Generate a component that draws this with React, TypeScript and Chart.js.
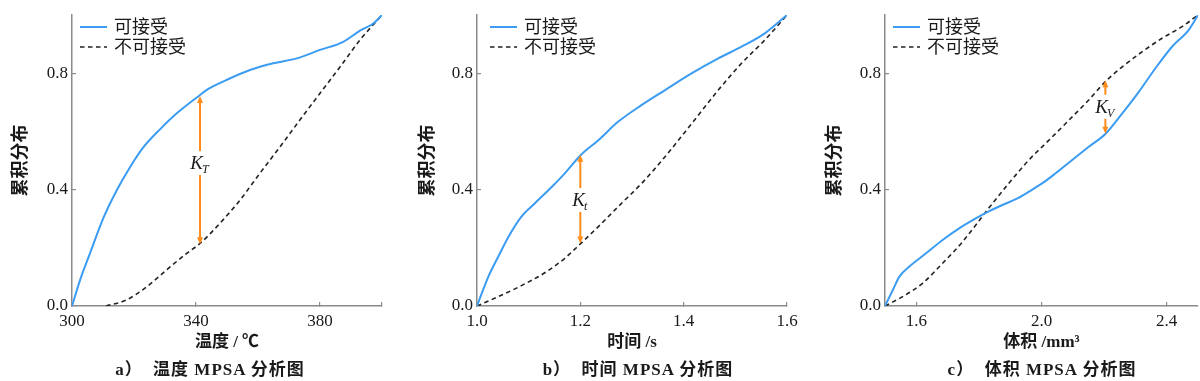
import React, { useEffect, useRef } from "react";
import { Chart, registerables } from "chart.js";

Chart.register(...registerables);

// ---------- data ----------
const seriesLabels = ["可接受", "不可接受"];

// a) temperature
const tempAcceptX = [300, 302.6, 305.8, 310.1, 314.4, 318.7, 323, 328.4, 333.8, 341.3, 344, 349.9, 357.4, 364.9, 372.5, 380, 387.5, 392.9, 397.2, 400];
const tempAcceptY = [0, 0.089, 0.181, 0.302, 0.397, 0.477, 0.545, 0.607, 0.662, 0.725, 0.746, 0.777, 0.811, 0.834, 0.851, 0.88, 0.908, 0.946, 0.971, 1.0];
const tempRejectX = [311, 317.6, 324.1, 330.5, 337, 341.3, 347.7, 354.2, 360.6, 367.1, 373.5, 380, 386.5, 392.9, 400];
const tempRejectY = [0, 0.021, 0.066, 0.124, 0.181, 0.215, 0.284, 0.364, 0.456, 0.547, 0.639, 0.731, 0.822, 0.914, 1.0];

// b) time
const timeAcceptX = [1.0, 1.022, 1.041, 1.061, 1.086, 1.112, 1.145, 1.17, 1.201, 1.235, 1.273, 1.319, 1.364, 1.416, 1.467, 1.512, 1.557, 1.6];
const timeAcceptY = [0, 0.101, 0.169, 0.238, 0.307, 0.353, 0.41, 0.456, 0.519, 0.57, 0.633, 0.691, 0.742, 0.8, 0.851, 0.891, 0.937, 1.0];
const timeRejectX = [1.0, 1.041, 1.086, 1.132, 1.17, 1.201, 1.235, 1.273, 1.319, 1.364, 1.416, 1.467, 1.512, 1.557, 1.6];
const timeRejectY = [0, 0.032, 0.07, 0.115, 0.164, 0.215, 0.273, 0.341, 0.422, 0.513, 0.628, 0.742, 0.834, 0.914, 1.0];

// c) volume
const volAcceptX = [1.5, 1.525, 1.546, 1.577, 1.631, 1.684, 1.737, 1.79, 1.833, 1.875, 1.918, 1.96, 2.003, 2.045, 2.098, 2.151, 2.204, 2.258, 2.311, 2.364, 2.417, 2.47, 2.5];
const volAcceptY = [0, 0.055, 0.101, 0.135, 0.181, 0.227, 0.267, 0.301, 0.326, 0.347, 0.367, 0.393, 0.422, 0.456, 0.502, 0.547, 0.591, 0.662, 0.736, 0.817, 0.891, 0.948, 1.0];
const volRejectX = [1.5, 1.556, 1.62, 1.684, 1.748, 1.827, 1.896, 1.96, 2.024, 2.088, 2.151, 2.204, 2.258, 2.322, 2.385, 2.449, 2.5];
const volRejectY = [0, 0.032, 0.078, 0.147, 0.221, 0.33, 0.422, 0.502, 0.57, 0.639, 0.708, 0.771, 0.822, 0.874, 0.92, 0.96, 1.0];

// ticks
const yTickValues = [0, 0.4, 0.8];
const yTickLabels = ["0.0", "0.4", "0.8"];
const tempTickValues = [300, 340, 380, 400];
const tempTickLabels = ["300", "340", "380", ""];
const timeTickValues = [1.0, 1.2, 1.4, 1.6];
const timeTickLabels = ["1.0", "1.2", "1.4", "1.6"];
const volTickValues = [1.6, 2.0, 2.4];
const volTickLabels = ["1.6", "2.0", "2.4"];

const yTitle = "累积分布";
const xTitles = ["温度 / ℃", "时间 /s", "体积 /mm³"];
const captions = ["a）  温度 MPSA 分析图", "b）  时间 MPSA 分析图", "c）  体积 MPSA 分析图"];

// K annotations (data coordinates)
const kX = [341.3, 1.2, 2.204];
const kTop = [0.722, 0.52, 0.776];
const kBottom = [0.212, 0.215, 0.592];
const kLabelY = [0.491, 0.364, 0.685];
const kSub = ["T", "t", "V"];

// ---------- styles ----------
const BLUE = "#3b9cf2";
const DASH = "#222222";
const ORANGE = "#ff8c1a";
const AXIS = "#8a8a8a";
const TEXT = "#1a1a1a";
const SERIF = "'Liberation Serif', 'Noto Sans CJK SC', serif";

const toPts = (xs: number[], ys: number[]) => xs.map((x, i) => ({ x, y: ys[i] }));

const panels = [
  {
    left: 0, chartLeft: 72, padRight: 18, yTitleCenter: 21, legendOffset: 8, captionCenter: 210,
    xMin: 300, xMax: 400, xTicks: tempTickValues, xLabels: tempTickLabels,
    acc: toPts(tempAcceptX, tempAcceptY), rej: toPts(tempRejectX, tempRejectY), idx: 0,
  },
  {
    left: 400, chartLeft: 77, padRight: 13, yTitleCenter: 28, legendOffset: 13, captionCenter: 238,
    xMin: 1.0, xMax: 1.6, xTicks: timeTickValues, xLabels: timeTickLabels,
    acc: toPts(timeAcceptX, timeAcceptY), rej: toPts(timeRejectX, timeRejectY), idx: 1,
  },
  {
    left: 800, chartLeft: 85, padRight: 2, yTitleCenter: 35, legendOffset: 8, captionCenter: 242,
    xMin: 1.5, xMax: 2.5, xTicks: volTickValues, xLabels: volTickLabels,
    acc: toPts(volAcceptX, volAcceptY), rej: toPts(volRejectX, volRejectY), idx: 2,
  },
];

const legendPlugin = {
  id: "innerLegend",
  afterDraw(chart: any, _a: any, opts: any) {
    const ctx = chart.ctx;
    const area = chart.chartArea;
    ctx.save();
    chart.data.datasets.forEach((ds: any, i: number) => {
      const y = area.top + 12 + i * 20;
      const x0 = area.left + opts.offset;
      ctx.beginPath();
      ctx.strokeStyle = ds.borderColor;
      ctx.lineWidth = ds.borderWidth;
      ctx.setLineDash(ds.borderDash || []);
      ctx.moveTo(x0, y);
      ctx.lineTo(x0 + 27, y);
      ctx.stroke();
      ctx.setLineDash([]);
      ctx.fillStyle = TEXT;
      ctx.font = `18px ${SERIF}`;
      ctx.textBaseline = "middle";
      ctx.textAlign = "left";
      ctx.fillText(ds.label, x0 + 34, y + 1);
    });
    ctx.restore();
  },
};

const kPlugin = {
  id: "kArrow",
  afterDatasetsDraw(chart: any, _a: any, opts: any) {
    const { ctx } = chart;
    const xs = chart.scales.x;
    const ys = chart.scales.y;
    const i = opts.idx;
    const px = xs.getPixelForValue(kX[i]);
    const pTop = ys.getPixelForValue(kTop[i]);
    const pBot = ys.getPixelForValue(kBottom[i]);
    const pLab = ys.getPixelForValue(kLabelY[i]);
    const gap = 12;
    const head = 7;
    const hw = 3;
    ctx.save();
    ctx.strokeStyle = ORANGE;
    ctx.fillStyle = ORANGE;
    ctx.lineWidth = 2;
    ctx.beginPath();
    ctx.moveTo(px, pTop + head - 1);
    ctx.lineTo(px, pLab - gap);
    ctx.moveTo(px, pLab + gap);
    ctx.lineTo(px, pBot - head + 1);
    ctx.stroke();
    ctx.beginPath();
    ctx.moveTo(px, pTop);
    ctx.lineTo(px - hw, pTop + head);
    ctx.lineTo(px + hw, pTop + head);
    ctx.closePath();
    ctx.fill();
    ctx.beginPath();
    ctx.moveTo(px, pBot);
    ctx.lineTo(px - hw, pBot - head);
    ctx.lineTo(px + hw, pBot - head);
    ctx.closePath();
    ctx.fill();
    // label
    ctx.fillStyle = TEXT;
    ctx.textBaseline = "alphabetic";
    ctx.textAlign = "left";
    ctx.font = `italic 19px ${SERIF}`;
    const wK = ctx.measureText("K").width;
    ctx.font = `italic 12px ${SERIF}`;
    const wS = ctx.measureText(kSub[i]).width;
    const start = px - (wK + wS) / 2;
    const base = pLab + 6;
    ctx.font = `italic 19px ${SERIF}`;
    ctx.fillText("K", start, base);
    ctx.font = `italic 12px ${SERIF}`;
    ctx.fillText(kSub[i], start + wK - 1, base + 4);
    ctx.restore();
  },
};

function Panel({ p }: { p: (typeof panels)[number] }) {
  const ref = useRef<HTMLCanvasElement>(null);
  useEffect(() => {
    const zeroPad = (s: any) => {
      s.paddingLeft = 0;
      s.paddingRight = 0;
      s.paddingTop = 0;
      s.paddingBottom = 0;
    };
    const chart = new Chart(ref.current as HTMLCanvasElement, {
      type: "line",
      data: {
        datasets: [
          {
            label: seriesLabels[0],
            data: p.acc,
            borderColor: BLUE,
            borderWidth: 2,
            pointRadius: 0,
            cubicInterpolationMode: "monotone",
            fill: false,
          },
          {
            label: seriesLabels[1],
            data: p.rej,
            borderColor: DASH,
            borderWidth: 1.6,
            borderDash: [4.5, 3.5],
            pointRadius: 0,
            cubicInterpolationMode: "monotone",
            fill: false,
          },
        ],
      },
      options: {
        responsive: false,
        animation: false,
        events: [],
        layout: { padding: { left: 0, right: p.padRight, top: 15, bottom: 28 } },
        plugins: {
          legend: { display: false },
          tooltip: { enabled: false },
          innerLegend: { offset: p.legendOffset },
          kArrow: { idx: p.idx },
        } as any,
        scales: {
          x: {
            type: "linear",
            min: p.xMin,
            max: p.xMax,
            afterBuildTicks: (s: any) => {
              s.ticks = p.xTicks.map((v) => ({ value: v }));
            },
            afterFit: (s: any) => {
              s.height = 47;
              zeroPad(s);
            },
            grid: { drawOnChartArea: false, tickLength: -4, color: AXIS, lineWidth: 1.2 },
            border: { color: AXIS, width: 1.5 },
            ticks: {
              padding: 9,
              color: TEXT,
              autoSkip: false,
              maxRotation: 0,
              font: { family: SERIF, size: 17 },
              callback: (_v: any, i: number) => p.xLabels[i],
            },
            title: {
              display: true,
              text: xTitles[p.idx],
              color: TEXT,
              font: { family: SERIF, size: 17, weight: "bold" },
              padding: { top: 0, bottom: 0 },
            },
          },
          y: {
            type: "linear",
            min: 0,
            max: 1,
            afterBuildTicks: (s: any) => {
              s.ticks = yTickValues.map((v) => ({ value: v }));
            },
            afterFit: (s: any) => {
              s.width = p.chartLeft;
              zeroPad(s);
            },
            grid: { drawOnChartArea: false, tickLength: -4, color: AXIS, lineWidth: 1.2 },
            border: { color: AXIS, width: 1.5 },
            ticks: {
              padding: 8,
              color: TEXT,
              font: { family: SERIF, size: 17 },
              callback: (_v: any, i: number) => yTickLabels[i],
            },
            title: {
              display: true,
              text: yTitle,
              color: TEXT,
              font: { family: SERIF, size: 18, weight: "bold" },
              padding: { top: p.yTitleCenter - 10.8, bottom: 0 },
            },
          },
        },
      },
      plugins: [legendPlugin, kPlugin],
    } as any);
    return () => chart.destroy();
  }, []);
  return (
    <div style={{ position: "absolute", left: p.left, top: 0, width: 400, height: 381 }}>
      <canvas ref={ref} width={400} height={381} style={{ display: "block", width: 400, height: 381 }} />
      <div
        style={{
          position: "absolute",
          left: p.captionCenter - 200,
          top: 359,
          width: 400,
          textAlign: "center",
          font: `bold 17px ${SERIF}`,
          letterSpacing: "1px",
          lineHeight: "22px",
          color: TEXT,
          whiteSpace: "pre",
        }}
      >
        {captions[p.idx]}
      </div>
    </div>
  );
}

export default function App() {
  return (
    <div style={{ position: "absolute", left: 0, top: 0, width: 1200, height: 381, background: "#fff", overflow: "hidden" }}>
      {panels.map((p) => (
        <Panel key={p.idx} p={p} />
      ))}
    </div>
  );
}
